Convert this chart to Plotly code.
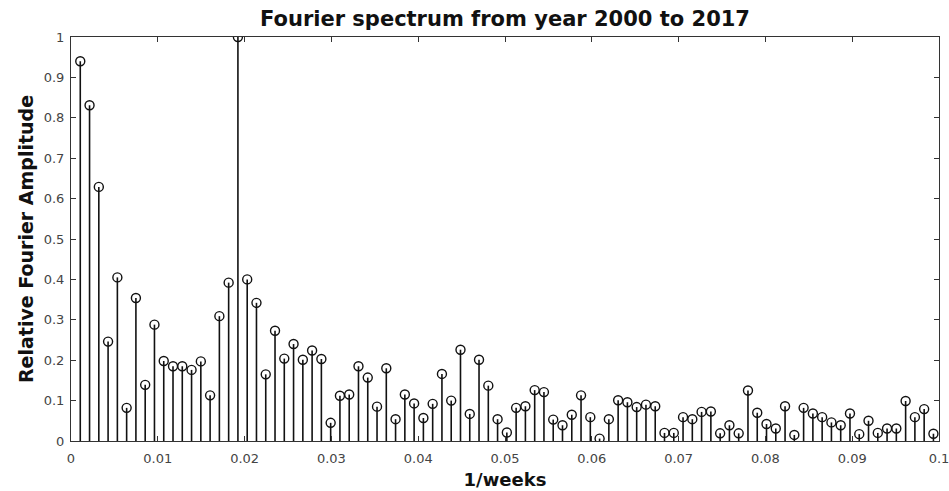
import plotly.graph_objects as go

# Weekly series 2000-2017: 18 years x 52 weeks
n_weeks = 936
harmonics = list(range(1, 94))

# Relative Fourier amplitude for each harmonic k (frequency k / n_weeks)
amplitude = [
    0.940, 0.831, 0.629, 0.246, 0.405, 0.082, 0.354, 0.139, 0.288, 0.198,
    0.185, 0.185, 0.176, 0.197, 0.113, 0.309, 0.392, 1.000, 0.400, 0.342,
    0.165, 0.273, 0.204, 0.240, 0.201, 0.224, 0.203, 0.045, 0.112, 0.115,
    0.185, 0.157, 0.085, 0.180, 0.054, 0.115, 0.093, 0.057, 0.092, 0.166,
    0.100, 0.226, 0.067, 0.201, 0.137, 0.054, 0.021, 0.082, 0.086, 0.126,
    0.121, 0.053, 0.039, 0.065, 0.113, 0.059, 0.006, 0.054, 0.101, 0.096,
    0.084, 0.090, 0.086, 0.020, 0.020, 0.059, 0.054, 0.072, 0.073, 0.019,
    0.039, 0.019, 0.125, 0.070, 0.042, 0.031, 0.086, 0.015, 0.082, 0.068,
    0.059, 0.046, 0.039, 0.068, 0.017, 0.050, 0.020, 0.031, 0.031, 0.099,
    0.059, 0.079, 0.018,
]

freq = [k / n_weeks for k in harmonics]

x_ticks = [i / 100 for i in range(11)]
x_tick_text = ["0", "0.01", "0.02", "0.03", "0.04", "0.05", "0.06", "0.07", "0.08", "0.09", "0.1"]
y_ticks = [i / 10 for i in range(11)]
y_tick_text = ["0", "0.1", "0.2", "0.3", "0.4", "0.5", "0.6", "0.7", "0.8", "0.9", "1"]

# Stem lines: one vertical segment per frequency
stem_x, stem_y = [], []
for f, a in zip(freq, amplitude):
    stem_x += [f, f, None]
    stem_y += [0, a, None]

fig = go.Figure()
fig.add_trace(go.Scatter(
    x=stem_x, y=stem_y, mode="lines",
    line=dict(color="#111111", width=1.6),
    hoverinfo="skip", showlegend=False,
))
fig.add_trace(go.Scatter(
    x=freq, y=amplitude, mode="markers",
    marker=dict(symbol="circle-open", size=9, color="#111111", line=dict(width=1.4)),
    showlegend=False,
))

font = "DejaVu Sans, Verdana, sans-serif"
axis_common = dict(
    showline=True, linecolor="#333333", linewidth=1, mirror="ticks",
    ticks="inside", ticklen=5, tickcolor="#333333", tickwidth=1,
    showgrid=False, zeroline=False, automargin=False,
    ticklabeloverflow="allow",
    tickfont=dict(family=font, size=13, color="#444444"),
)

fig.update_layout(
    width=949, height=491,
    margin=dict(l=71, r=10, t=37, b=50),
    paper_bgcolor="white", plot_bgcolor="white",
    title=dict(
        text="<b>Fourier spectrum from year 2000 to 2017</b>",
        x=0.5, xanchor="center", xref="paper", y=0.963, yanchor="middle",
        font=dict(family=font, size=21, color="#111111"),
    ),
    xaxis=dict(
        range=[0, 0.1], tickvals=x_ticks, ticktext=x_tick_text,
        ticklabelstandoff=5,
        title=dict(text="<b>1/weeks</b>", standoff=8,
                   font=dict(family=font, size=18, color="#111111")),
        **axis_common,
    ),
    yaxis=dict(
        range=[0, 1], tickvals=y_ticks, ticktext=y_tick_text,
        ticklabelstandoff=3,
        title=dict(text="<b>Relative Fourier Amplitude</b>", standoff=5,
                   font=dict(family=font, size=19, color="#111111")),
        **axis_common,
    ),
)

fig.write_html("out.html")
